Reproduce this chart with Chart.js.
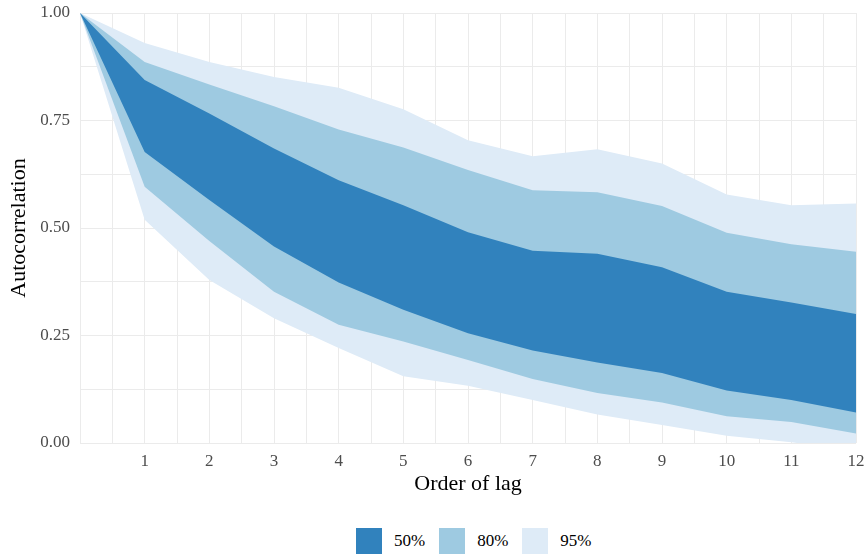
<!DOCTYPE html>
<html lang="en">
<head>
<meta charset="UTF-8">
<title>Autocorrelation bands</title>
<script src="https://cdn.jsdelivr.net/npm/chart.js"></script>
<style>
  body { margin: 0; background: #fff; }
  .wrap { position: relative; width: 865px; height: 556px; }
  .chart-box { position: absolute; left: 0; top: 0; width: 865px; height: 510px; }
  .legend { position: absolute; top: 528px; left: 356px; display: flex; align-items: center;
            font-family: "Liberation Serif", serif; font-size: 17px; color: #000; }
  .legend span.box { display: inline-block; width: 26px; height: 26px; margin-right: 12px; }
  .legend .item { display: flex; align-items: center; margin-right: 14px; }
</style>
</head>
<body>
<div class="wrap">
  <div class="chart-box"><canvas id="acf"></canvas></div>
  <div class="legend">
    <div class="item"><span class="box" style="background:#3182bd"></span>50%</div>
    <div class="item"><span class="box" style="background:#9ecae1"></span>80%</div>
    <div class="item"><span class="box" style="background:#deebf7"></span>95%</div>
  </div>
</div>
<script>
  // lags and band limits
  const lags = [0, 1, 2, 3, 4, 5, 6, 7, 8, 9, 10, 11, 12];
  const lo95 = [1, 0.519, 0.379, 0.290, 0.221, 0.155, 0.133, 0.100, 0.066, 0.042, 0.017, 0.002, -0.02];
  const lo80 = [1, 0.596, 0.470, 0.352, 0.275, 0.236, 0.193, 0.149, 0.116, 0.094, 0.062, 0.049, 0.022];
  const lo50 = [1, 0.677, 0.565, 0.457, 0.373, 0.310, 0.255, 0.215, 0.187, 0.163, 0.122, 0.100, 0.071];
  const hi50 = [1, 0.844, 0.766, 0.685, 0.611, 0.553, 0.490, 0.447, 0.440, 0.409, 0.352, 0.327, 0.300];
  const hi80 = [1, 0.886, 0.834, 0.783, 0.729, 0.687, 0.635, 0.588, 0.583, 0.551, 0.489, 0.462, 0.445];
  const hi95 = [1, 0.930, 0.886, 0.851, 0.826, 0.776, 0.704, 0.667, 0.683, 0.650, 0.578, 0.553, 0.557];

  function pts(arr) {
    return lags.map((x, i) => ({ x: x, y: arr[i] }));
  }

  function band(data, fillTarget, color) {
    return {
      data: pts(data),
      fill: fillTarget === null ? false : { target: fillTarget },
      backgroundColor: color,
      borderWidth: 0,
      pointRadius: 0,
      tension: 0
    };
  }

  const serif = "'Liberation Serif', serif";

  new Chart(document.getElementById('acf'), {
    type: 'line',
    data: {
      // index 0 is drawn last, so the 50% band sits on top
      datasets: [
        band(hi50, 1, '#3182bd'),
        band(lo50, null, '#3182bd'),
        band(hi80, 3, '#9ecae1'),
        band(lo80, null, '#9ecae1'),
        band(hi95, 5, '#deebf7'),
        band(lo95, null, '#deebf7')
      ]
    },
    options: {
      responsive: true,
      maintainAspectRatio: false,
      animation: false,
      layout: { padding: { top: 13, right: 9, left: 0, bottom: 0 } },
      plugins: { legend: { display: false }, tooltip: { enabled: false } },
      scales: {
        x: {
          type: 'linear',
          min: 0,
          max: 12,
          border: { display: false },
          grid: { color: '#ebebeb', lineWidth: 1, drawTicks: false },
          ticks: {
            stepSize: 0.5,
            autoSkip: false,
            maxRotation: 0,
            padding: 8,
            color: '#4d4d4d',
            font: { family: serif, size: 17 },
            callback: v => (v > 0 && Number.isInteger(v)) ? String(v) : ''
          },
          title: {
            display: true,
            text: 'Order of lag',
            color: '#000',
            font: { family: serif, size: 22 },
            padding: { top: 0, bottom: 13 }
          },
          afterFit: s => {
            s.height = 67;
            s.paddingLeft = 0;
            s.paddingRight = 0;
          }
        },
        y: {
          min: 0,
          max: 1,
          border: { display: false },
          grid: { color: '#ebebeb', lineWidth: 1, drawTicks: false },
          ticks: {
            stepSize: 0.125,
            autoSkip: false,
            padding: 10,
            color: '#4d4d4d',
            font: { family: serif, size: 17 },
            callback: v => (Math.abs(v * 4 - Math.round(v * 4)) < 1e-6) ? v.toFixed(2) : ''
          },
          title: {
            display: true,
            text: 'Autocorrelation',
            color: '#000',
            font: { family: serif, size: 22 },
            padding: { top: 6, bottom: 0 }
          },
          afterFit: s => {
            s.width = 80;
            s.paddingTop = 0;
            s.paddingBottom = 0;
          }
        }
      }
    }
  });
</script>
</body>
</html>
